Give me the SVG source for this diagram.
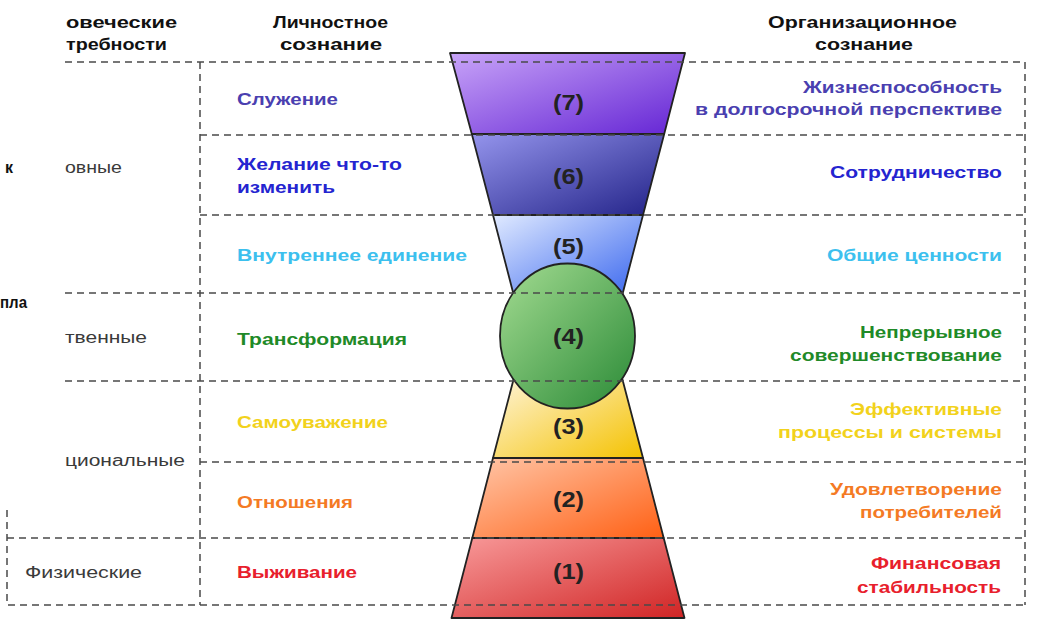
<svg xmlns="http://www.w3.org/2000/svg" width="1037" height="627" viewBox="0 0 1037 627">
<style>
.lbl{font-family:"Liberation Sans",Arial,sans-serif;font-size:17px;font-weight:bold}
.hdr{font-family:"Liberation Sans",Arial,sans-serif;font-size:16px;font-weight:bold;fill:#111}
.gry{font-family:"Liberation Sans",Arial,sans-serif;font-size:16px;fill:#3a3a3a}
.num{font-family:"Liberation Sans",Arial,sans-serif;font-size:22px;font-weight:bold;fill:#222}
.band{stroke:#222;stroke-width:1.8;stroke-linejoin:round}
.dash{fill:none;stroke:#4a4a4a;stroke-width:1.5;stroke-dasharray:7 5}
.c7{fill:#4a3fb0}.c6{fill:#2424d0}.c5{fill:#3cc0ee}.c4{fill:#1f8a28}.c3{fill:#f2d21c}.c2{fill:#f47a24}.c1{fill:#e8202c}
</style>
<defs>
<linearGradient id="g7" x1="0" y1="0" x2="1" y2="1"><stop offset="0" stop-color="#c8a4f8"/><stop offset="1" stop-color="#6424d4"/></linearGradient>
<linearGradient id="g6" x1="0" y1="0" x2="1" y2="1"><stop offset="0" stop-color="#9494ec"/><stop offset="1" stop-color="#222288"/></linearGradient>
<linearGradient id="g5" x1="0" y1="0" x2="1" y2="1"><stop offset="0" stop-color="#e0eaff"/><stop offset="1" stop-color="#3462ee"/></linearGradient>
<linearGradient id="g4" x1="0" y1="0" x2="1" y2="1"><stop offset="0" stop-color="#a4dc92"/><stop offset="1" stop-color="#2a8a36"/></linearGradient>
<linearGradient id="g3" x1="0" y1="0" x2="1" y2="1"><stop offset="0" stop-color="#fff6e2"/><stop offset="1" stop-color="#f4c200"/></linearGradient>
<linearGradient id="g2" x1="0" y1="0" x2="1" y2="1"><stop offset="0" stop-color="#ffc6a8"/><stop offset="1" stop-color="#ff6014"/></linearGradient>
<linearGradient id="g1" x1="0" y1="0" x2="1" y2="1"><stop offset="0" stop-color="#f89a9a"/><stop offset="1" stop-color="#d02424"/></linearGradient>
</defs>
<rect width="1037" height="627" fill="#ffffff"/>

<g id="headers">
<text class="hdr" x="66" y="28" textLength="111" lengthAdjust="spacingAndGlyphs">овеческие</text>
<text class="hdr" x="66" y="50" textLength="101" lengthAdjust="spacingAndGlyphs">требности</text>
<text class="hdr" x="273" y="28" textLength="115" lengthAdjust="spacingAndGlyphs">Личностное</text>
<text class="hdr" x="280" y="50" textLength="102" lengthAdjust="spacingAndGlyphs">сознание</text>
<text class="hdr" x="768" y="28" textLength="189" lengthAdjust="spacingAndGlyphs">Организационное</text>
<text class="hdr" x="815" y="50" textLength="98" lengthAdjust="spacingAndGlyphs">сознание</text>
</g>

<g id="needs">
<text class="hdr" x="5" y="173" textLength="8" lengthAdjust="spacingAndGlyphs">к</text>
<text class="gry" x="65" y="173" textLength="57" lengthAdjust="spacingAndGlyphs">овные</text>
<text class="hdr" x="0" y="308" textLength="27" lengthAdjust="spacingAndGlyphs">пла</text>
<text class="gry" x="65" y="343" textLength="82" lengthAdjust="spacingAndGlyphs">твенные</text>
<text class="gry" x="65" y="466" textLength="120" lengthAdjust="spacingAndGlyphs">циональные</text>
<text class="gry" x="25" y="578" textLength="117" lengthAdjust="spacingAndGlyphs">Физические</text>
</g>

<g id="level7">
<polygon class="band" fill="url(#g7)" points="450,53 685,53 664.2,134 471.8,134"/>
<text class="num" x="553" y="110" textLength="31" lengthAdjust="spacingAndGlyphs">(7)</text>
<text class="lbl c7" x="237" y="105" textLength="101" lengthAdjust="spacingAndGlyphs">Служение</text>
<text class="lbl c7" x="803" y="93" textLength="199" lengthAdjust="spacingAndGlyphs">Жизнеспособность</text>
<text class="lbl c7" x="695" y="115" textLength="307" lengthAdjust="spacingAndGlyphs">в долгосрочной  перспективе</text>
</g>

<g id="level6">
<polygon class="band" fill="url(#g6)" points="471.8,134 664.2,134 643,215 493,215"/>
<text class="num" x="553" y="184" textLength="31" lengthAdjust="spacingAndGlyphs">(6)</text>
<text class="lbl c6" x="237" y="170" textLength="165" lengthAdjust="spacingAndGlyphs">Желание что-то</text>
<text class="lbl c6" x="237" y="193" textLength="98" lengthAdjust="spacingAndGlyphs">изменить</text>
<text class="lbl c6" x="830" y="178" textLength="172" lengthAdjust="spacingAndGlyphs">Сотрудничество</text>
</g>

<g id="level5">
<polygon class="band" fill="url(#g5)" points="493,215 643,215 621,300 515,300"/>
<text class="num" x="553" y="254" textLength="31" lengthAdjust="spacingAndGlyphs">(5)</text>
<text class="lbl c5" x="237" y="261" textLength="230" lengthAdjust="spacingAndGlyphs">Внутреннее  единение</text>
<text class="lbl c5" x="827" y="261" textLength="175" lengthAdjust="spacingAndGlyphs">Общие ценности</text>
</g>

<g id="level3">
<polygon class="band" fill="url(#g3)" points="515.5,372 620.5,372 643,458 493,458"/>
<text class="num" x="553" y="434" textLength="31" lengthAdjust="spacingAndGlyphs">(3)</text>
<text class="lbl c3" x="237" y="428" textLength="151" lengthAdjust="spacingAndGlyphs">Самоуважение</text>
<text class="lbl c3" x="850" y="415" textLength="152" lengthAdjust="spacingAndGlyphs">Эффективные</text>
<text class="lbl c3" x="778" y="438" textLength="224" lengthAdjust="spacingAndGlyphs">процессы  и системы</text>
</g>

<g id="level2">
<polygon class="band" fill="url(#g2)" points="493,458 643,458 663.7,538 472.3,538"/>
<text class="num" x="553" y="507" textLength="31" lengthAdjust="spacingAndGlyphs">(2)</text>
<text class="lbl c2" x="237" y="508" textLength="116" lengthAdjust="spacingAndGlyphs">Отношения</text>
<text class="lbl c2" x="830" y="495" textLength="172" lengthAdjust="spacingAndGlyphs">Удовлетворение</text>
<text class="lbl c2" x="860" y="518" textLength="142" lengthAdjust="spacingAndGlyphs">потребителей</text>
</g>

<g id="level1">
<polygon class="band" fill="url(#g1)" points="472.3,538 663.7,538 684.5,618 451.5,618"/>
<text class="num" x="553" y="579" textLength="31" lengthAdjust="spacingAndGlyphs">(1)</text>
<text class="lbl c1" x="237" y="578" textLength="120" lengthAdjust="spacingAndGlyphs">Выживание</text>
<text class="lbl c1" x="871" y="569" textLength="130" lengthAdjust="spacingAndGlyphs">Финансовая</text>
<text class="lbl c1" x="857" y="593" textLength="144" lengthAdjust="spacingAndGlyphs">стабильность</text>
</g>

<g id="level4">
<ellipse class="band" fill="url(#g4)" cx="567.5" cy="336" rx="67.5" ry="72.5"/>
<text class="num" x="553" y="344" textLength="31" lengthAdjust="spacingAndGlyphs">(4)</text>
<text class="lbl c4" x="237" y="345" textLength="170" lengthAdjust="spacingAndGlyphs">Трансформация</text>
<text class="lbl c4" x="860" y="338" textLength="142" lengthAdjust="spacingAndGlyphs">Непрерывное</text>
<text class="lbl c4" x="790" y="361" textLength="212" lengthAdjust="spacingAndGlyphs">совершенствование</text>
</g>

<g id="connectors">
<path class="dash" d="M65,62 H1025 V605"/>
<path class="dash" d="M200,62 V605"/>
<path class="dash" d="M200,135 H1025"/>
<path class="dash" d="M200,215 H1025"/>
<path class="dash" d="M65,293 H1025"/>
<path class="dash" d="M65,381 H1025"/>
<path class="dash" d="M200,462 H1025"/>
<path class="dash" d="M7,538 H1025"/>
<path class="dash" d="M7,510 V605 H1025"/>
</g>
</svg>
